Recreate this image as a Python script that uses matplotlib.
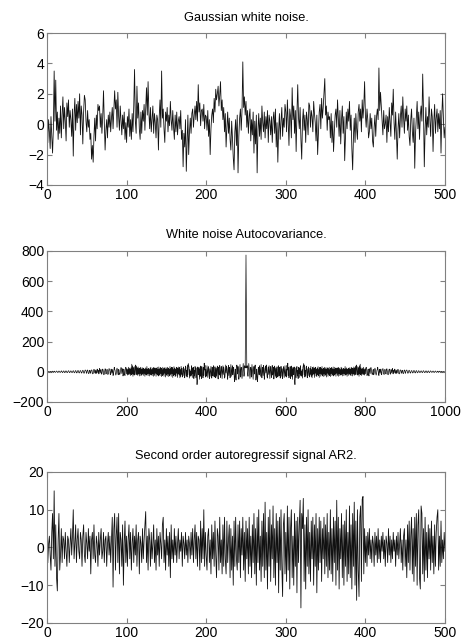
import numpy as np
import matplotlib
matplotlib.use("Agg")
import matplotlib.pyplot as plt

plt.rcParams['font.family'] = ['Liberation Sans', 'DejaVu Sans']

# Gaussian white noise, samples 1..500
noise = [
    -1.2, 0.3, -0.5, -1.6, 0.5, -0.8, -1.9, -0.3, 3.5, 0.2, 2.9, -0.4, 0.8, -1.0, 0.4, -0.6, 1.2, -0.9, 0.6, 1.8,
    -0.3, 1.1, 0.2, -1.1, 1.4, 0.5, 1.6, -0.2, 0.9, 0.3, -0.8, 1.0, -2.1, 0.6, 1.7, -0.4, 1.3, 0.1, 1.5, 0.4,
    2.0, -0.7, 1.2, 0.6, -1.3, 0.8, 1.9, 1.6, 0.2, -0.5, 0.9, -0.2, 0.3, -1.0, -0.6, -2.3, -1.4, -2.5, -0.8, 0.4,
    -1.1, 0.6, -0.3, 1.3, 0.9, 1.2, -0.2, 0.7, -0.6, 0.5, 2.2, 0.1, -1.7, -0.4, 0.3, -0.9, 0.6, -0.2, 0.8, -0.5,
    0.4, 1.1, -0.3, 0.9, 2.2, 1.0, 1.6, -0.2, 2.1, 0.5, -0.4, 1.2, 0.3, -0.7, 0.6, -0.3, 0.8, -1.0, 0.1, -1.2,
    0.5, -0.2, 1.0, -0.8, 0.3, -1.0, 0.7, -0.5, 1.2, 3.6, 0.2, -0.6, 2.5, 0.4, 1.4, -0.3, -1.0, 0.8, -0.6, 0.9,
    0.2, 1.3, -0.4, 1.0, 2.4, 0.6, 2.8, 0.8, -0.3, 1.1, -0.5, 0.4, 1.2, -0.6, 0.7, 0.1, -0.9, 0.6, 0.3, -1.7,
    0.5, 1.6, -0.2, 3.5, 0.4, 1.0, -0.3, -1.2, 0.8, 0.2, 1.1, -0.5, 0.6, -0.1, 1.5, 0.3, -0.4, 0.9, -0.2, -1.0,
    0.6, -0.5, 0.8, -0.7, 0.2, 0.5, -0.3, 0.9, -1.0, -0.4, -2.8, -0.6, -1.5, 0.3, -3.1, -1.2, 0.6, -2.0, -0.5, 0.4,
    -0.6, 0.7, 1.0, -0.2, 0.6, 1.2, 0.3, 1.5, 0.2, 2.6, 0.8, 1.4, -0.1, 0.9, 1.0, 0.2, 1.3, -0.3, 0.6, 0.5,
    -0.4, 0.9, -0.8, 0.3, -2.0, -0.3, 0.6, 1.0, 0.1, 1.7, 0.8, 2.3, 1.6, 2.0, 2.5, 1.2, 1.9, 2.8, 0.9, 1.6,
    0.3, 1.1, -0.5, 0.7, -1.5, -0.2, 0.8, -0.6, 0.4, -1.0, -1.7, 0.2, -0.9, -2.2, -3.0, -0.5, 0.3, -1.4, 0.6, -3.2,
    -0.8, 0.4, 1.0, -0.4, 0.9, 4.1, 1.1, 1.8, 0.6, 1.5, -0.2, 0.9, -0.6, 0.5, 1.0, -1.1, 0.3, -0.7, 0.8, -1.9,
    0.2, -1.3, 0.6, -3.2, -0.4, 0.7, -0.8, 0.4, -1.0, 1.2, 0.1, -0.5, 0.8, -0.9, 0.5, -0.3, 0.9, -1.2, 0.6, 0.2,
    -0.7, 0.5, -1.2, 0.3, 0.8, -0.6, 1.0, -1.5, 0.1, -2.5, -0.4, 0.7, -1.0, 0.2, 1.1, -0.8, 0.4, -0.2, 1.3, 0.8,
    -0.5, 1.6, 0.2, -1.4, 1.0, 0.5, -0.9, 2.4, 0.3, 1.2, -0.6, 0.9, -1.8, 0.7, 2.6, 0.4, -0.3, 1.1, -1.0, -2.3,
    0.2, 1.0, -0.4, 0.6, -1.2, 0.8, 0.3, -0.7, 1.4, 1.2, -0.2, 0.9, 0.5, -0.5, 1.5, 0.7, 0.1, -1.1, 0.6, -2.0,
    -0.6, 0.8, 1.3, -0.3, 1.7, 0.4, 1.1, 2.0, 3.0, 0.6, 1.2, -0.4, 0.8, 0.3, 0.5, -0.9, 0.7, -1.2, 0.2, -1.8,
    -0.5, 0.6, 1.0, -0.2, 1.6, 0.4, -0.8, 0.9, -1.3, 0.3, 1.2, -0.6, 0.5, -2.4, -0.7, 0.8, -0.3, 1.0, 0.2, 1.5,
    -0.4, 0.6, -1.6, -3.0, -0.8, 0.4, -1.2, 0.7, -0.3, -1.0, 0.8, 1.3, 0.2, 1.0, -0.5, 1.6, 0.4, 1.2, 2.8, 0.6,
    -0.2, 1.0, 0.3, -0.9, -0.5, 0.7, -0.3, 0.4, -1.1, -1.5, -0.2, 0.6, -0.8, 0.5, 1.0, 0.3, 3.7, 0.9, 2.1, 1.2,
    0.4, -0.7, 0.9, -0.3, 0.0, 0.6, -1.2, 0.5, -0.5, 1.1, 0.2, -0.8, 1.4, 0.6, 2.3, 0.1, -1.0, 0.8, -0.6, -2.3,
    -0.3, 0.7, -0.9, 0.5, 1.2, -0.2, 1.8, 0.4, -0.6, 1.0, 0.2, 1.2, -0.4, 0.6, -0.8, -1.4, 0.3, 1.0, -0.5, -1.2,
    0.4, -2.9, -0.6, 0.5, 1.5, -0.3, 0.8, -1.0, 0.6, 1.2, 0.2, 3.3, 0.9, -2.8, -0.4, 1.1, -0.7, 0.5, -0.2, 1.8,
    0.3, -0.8, 1.0, 0.5, -1.8, 0.2, 1.3, -0.6, 0.4, 1.0, -0.5, 0.7, -0.3, 0.9, -1.9, 0.6, 2.0, 0.4, -0.9, -0.2,
]

# autocovariance for lags 0..499 (the plotted curve is symmetric about lag 0)
acov_lags = [
    773, 415, 25, 40, -10, -30, 15, 55, 20, -20, -45, -15, 30, 10, -35, 48, 12, -28, -50, 5,
    35, -15, 22, 45, -5, -55, -25, 18, -40, -65, -10, 30, 15, -20, 40, 20, -30, 10, 48, -12,
    -40, 8, 30, -25, 42, 18, -50, -20, 25, 38, -8, 45, 10, -35, -42, 15, 32, -18, 40, -5,
    -45, 20, 35, -12, -38, 28, 42, -22, -8, 30, -48, -15, 38, 12, -30, 25, -40, 5, 33, -20,
    -35, 15, 40, -28, 10, 30, -42, -18, 36, 8, -30, 20, -45, -12, 34, 28, -38, 5, 40, -22,
    -30, 18, -35, 42, 12, 57, -25, 30, -40, -15, 20, 35, -45, 8, 38, -30, 15, -50, 28, -10,
    -20, 32, -55, -85, -30, 25, -40, 18, 35, -28, 10, -45, 30, -12, 26, -38, 20, 40, -25, 5,
    -30, 15, -42, 28, 40, 55, -20, 45, -35, 10, -28, 30, 38, -15, -40, 20, -25, 32, 8, -26,
    -35, 24, -18, 36, -30, 15, -40, 28, -22, 32, -15, 20, -38, 26, -10, 30, -28, 18, -32, 25,
    -20, 34, -26, 15, -38, 28, -12, 30, -30, 22, -18, 35, -25, 16, -32, 24, -15, 30, -28, 20,
    -22, 28, -35, 18, -10, 26, -30, 22, -18, 30, -25, 14, -32, 24, -12, 28, -26, 20, -20, 32,
    -28, 16, -22, 30, -15, 24, -30, 20, -10, 26, -24, 18, -30, 28, -14, 22, -26, 15, -18, 30,
    -20, 25, -28, 14, -12, 22, -26, 18, -15, 35, -22, 20, -18, 26, -30, 15, -10, 24, -24, 20,
    -16, 28, -22, 18, -26, 30, -12, 24, -28, 20, -15, 32, -24, 26, -18, 38, -20, 30, 45, -15,
    -22, 34, -18, 28, -30, 40, -14, 50, -20, 26, -25, 18, -12, 24, -20, 30, -16, 15, -22, 20,
    -14, 22, 30, 16, -25, -20, 10, 18, -16, -28, 20, 14, -12, 20, 28, 15, -8, -18, -15, 12,
    16, -20, -10, 14, 24, 16, -12, -22, -14, 10, 16, 30, 8, -14, -25, 16, 5, -10, 10, 18,
    -14, -20, 6, 15, 22, 8, -12, -18, 4, 16, 10, -12, -15, 14, 20, 6, -12, -20, -8, 12,
    18, 4, -12, -16, 14, 12, -8, 15, 22, -12, -14, 9, -6, 14, 18, -10, -9, 12, -12, 8,
    -8, 12, 16, 9, -12, -14, -6, 10, 12, 11, -10, -6, 8, 10, -7, -12, -10, 6, 12, 8,
    -8, -10, 6, 9, 12, 5, -7, -10, -5, 7, 10, 6, -4, -9, -6, 5, 8, 6, -4, -8,
    -6, 5, 9, 6, -3, -8, -5, 4, 8, 5, -4, -7, -5, 5, 7, 4, -3, -6, -4, 3,
    6, 4, -3, -6, -4, 5, 7, 4, -2, -6, -5, 2, 6, 5, -2, -6, -4, 3, 6, 3,
    -3, -6, -2, 4, 6, 2, -3, -5, -2, 3, 5, 2, -4, -5, -1, 3, 5, 2, -3, -4,
    -2, 3, 4, -2, -4, 1, 4, 2, -3, -3, 2, 3, 0, -3, -1, 2, 2, -1, -1, 0,
]

# second order autoregressive signal, samples 1..500
ar2 = [
    -4, 1, 3, -2, -6, 4, 9, -3, 15, -5, 6, -8, -11.5, 2, 9, -6, -2, 5, -4, 3,
    2, -3, 4, -1, -5, 3, 2, -4, 1, 5, -2, 3, 10, -3, 1, 6, -4, 2, 5, -1,
    -3, 4, 2, -5, 3, 6, -2, -4, 4, 1, -3, 5, -1, 3, -7, 2, 4, -3, 6, -2,
    -4, 3, 1, -5, 4, -2, 2, 5, -3, -1, 4, -4, 2, 3, -5, 1, 4, -2, 3, -4,
    2, 8, -10.5, 5, 9, -6, 3, 8, -4, 9, -7, 4, 2, -5, 6, -10, 1, 7, -4, 3,
    -5, 2, 6, -3, 4, -6, 1, 5, -4, 3, -2, 6, -5, 2, 4, -7, 3, 1, -4, 5,
    -3, 2, 6, 9.5, -4, 3, -6, 5, 2, -5, 4, -3, 1, 6, -4, 2, -6, 5, -2, 3,
    -5, 4, 1, -3, 6, 8, -4, 2, -6, 5, -2, 3, -5, 4, -8, 6, -3, 2, -4, 5,
    -2, 3, -4, 1, 5, -3, 2, -1, 4, -5, 3, 1, -3, 4, -2, 2, -4, 3, 1, -3,
    4, -2, 5, -4, 2, 6, -3, 4, -5, 3, 2, -6, 7, -4, 5, -3, 10, -5, 4, -2,
    -6, 3, 5, -4, 2, -7, 6, -3, 4, -5, 7, -2, -8, 5, 3, -6, 8, -4, 2, -7,
    6, -5, 8, -3, -7, 7, -4, 2, 6, -8, 5, -6, 3, -10, 7, -5, 8, -3, -6, 6,
    -4, 7, -8, 5, -2, 8, -6, 4, -9, 7, -3, 5, -7, 8, -5, 3, -8, 6, -4, 9,
    -7, 5, -10, 8, -4, 10, -6, 3, -9, 7, -5, 9, -8, 12, -6, 4, -11, 8, -5, 10,
    -9, 6, -3, 11, -8, 5, -10, 9, -4, 7, -12, 8, -6, 10, -5, -13, 6, 9, -7, 4,
    -9, 11, -6, 8, -11, 5, 10, -8, 3, -10, 9, -5, 7, -12, 8, -4, 6, 12.5, -16, 9,
    5, 13, -9, 6, -11, 8, -5, 10, -7, 4, -9, 7, -3, 8, -10, 6, -5, 9, -12, 5,
    -6, 8, -4, 7, -9, 5, -3, 8, -7, 6, -5, 9, -8, 4, -6, 10, -7, 5, -9, 8,
    -4, 7, -10, 12.5, -6, 8, -11, 5, -3, 9, -8, 6, -10, 7, -5, 10, -9, 4, -7, 11,
    -8, 6, -11, 9, -5, 12, -10, 7, -14, 10, -6, -13, 8, 11, -9, 12.8, 13.5, -7, 5, -4,
    3, -5, 4, -2, 5, -3, 2, -4, 3, 1, -5, 4, -2, 3, -4, 5, -3, 2, -4, 3,
    -1, 4, -3, 2, -5, 3, 1, -4, 5, -2, 3, -4, 2, -3, 4, -1, 2, -5, 3, -2,
    4, -3, 1, 5, -4, 2, -6, 3, 5, -5, 2, -8, 6, -4, 7, -6, 3, 8, -7, 5,
    -9, 8, -5, 9, -10, 6, 10, -8, -11, 11, 9, -7, 5, -9, 8, -6, 4, -8, 6, -3,
    5, -6, 7, -4, 3, -7, 6, -5, 4, 8, 10, -6, 3, -5, 7, -4, 2, -3, 4, -1,
]

titles = ["Gaussian white noise.", "White noise Autocovariance.",
          "Second order autoregressif signal AR2."]

acov_lags = np.array(acov_lags, dtype=float)
acov = np.concatenate([acov_lags[:0:-1], acov_lags])

fig = plt.figure(figsize=(4.63, 6.41), dpi=100)
ax1 = fig.add_axes([0.1015, 0.7114, 0.8596, 0.2371])
ax2 = fig.add_axes([0.1015, 0.3729, 0.8596, 0.2356])
ax3 = fig.add_axes([0.1015, 0.0281, 0.8596, 0.2356])

ax1.plot(np.arange(1, len(noise) + 1), noise, color='#111111', lw=0.6)
ax2.plot(np.arange(1, len(acov) + 1), acov, color='#111111', lw=0.5)
ax3.plot(np.arange(1, len(ar2) + 1), ar2, color='#111111', lw=0.6)

ax1.set_xlim(0, 500)
ax1.set_ylim(-4, 6)
ax1.set_xticks(range(0, 501, 100))
ax1.set_yticks(range(-4, 7, 2))

ax2.set_xlim(0, 1000)
ax2.set_ylim(-200, 800)
ax2.set_xticks(range(0, 1001, 200))
ax2.set_yticks(range(-200, 801, 200))

ax3.set_xlim(0, 500)
ax3.set_ylim(-20, 20)
ax3.set_xticks(range(0, 501, 100))
ax3.set_yticks(range(-20, 21, 10))

for ax, t in zip([ax1, ax2, ax3], titles):
    ax.set_title(t, fontsize=9.2, pad=9)
    for s in ax.spines.values():
        s.set_color('#808080')
        s.set_linewidth(0.8)
    ax.tick_params(direction='in', length=3.5, width=0.8, color='#808080',
                   top=True, right=True, labelsize=10, pad=2)

plt.savefig("out.png", dpi=100)
